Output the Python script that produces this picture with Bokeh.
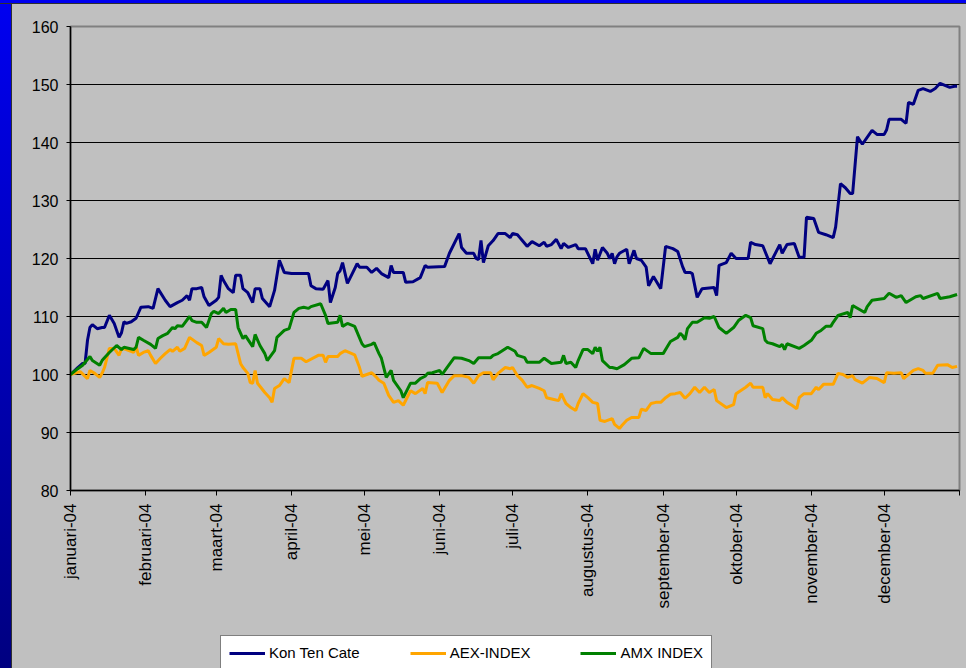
import math
import pandas as pd
from bokeh.plotting import figure
from bokeh.models import FixedTicker, Legend, LegendItem, Div, Range1d
from bokeh.layouts import row, column
from bokeh.embed import file_html
from bokeh.resources import INLINE

# ---------------- data ----------------
start = pd.Timestamp("2004-01-01")

kct_days = [0, 3, 5, 6, 7, 8, 9, 11, 13, 14, 16, 18, 20, 21, 22, 23, 25, 27, 29, 32, 34, 36, 39, 41, 44,
            46, 48, 49, 50, 52, 54, 55, 57, 60, 61, 62, 63, 65, 67, 68, 70, 71, 73, 75, 76, 78, 79, 82,
            84, 86, 88, 91, 98, 99, 101, 104, 106, 107, 109, 110, 111, 112, 114, 116, 118, 119, 122,
            124, 126, 128, 131, 132, 133, 137, 138, 141, 144, 146, 147, 154, 156, 160, 161, 163, 166,
            167, 168, 169, 170, 172, 174, 176, 179, 181, 182, 184, 185, 186, 188, 190, 193, 195, 196,
            198, 200, 202, 203, 205, 208, 209, 212, 215, 216, 217, 219, 221, 222, 223, 224, 225, 226,
            229, 230, 232, 233, 235, 237, 238, 240, 243, 245, 248, 250, 252, 253, 255, 256, 258, 260,
            265, 266, 267, 270, 272, 274, 276, 279, 280, 282, 285, 288, 292, 293, 295, 298, 300, 302,
            303, 306, 308, 311, 314, 315, 317, 319, 321, 322, 324, 326, 330, 332, 335, 336, 337, 342,
            344, 345, 347, 349, 351, 354, 356, 358, 362, 364, 365]
kct_vals = [100.0, 101.2, 101.9, 101.9, 105.9, 108.1, 108.6, 107.9, 108.1, 108.1, 110.2, 108.8, 106.4,
            107.2, 109.1, 108.8, 109.1, 109.7, 111.6, 111.7, 111.4, 114.8, 112.8, 111.7, 112.4, 112.8,
            113.6, 112.8, 114.8, 114.8, 115.0, 113.4, 111.9, 112.8, 113.3, 117.1, 116.2, 114.8, 114.1,
            117.1, 117.1, 114.8, 114.1, 112.4, 114.8, 114.8, 113.1, 111.7, 114.5, 119.7, 117.6, 117.4,
            117.4, 115.3, 114.8, 114.7, 116.2, 112.4, 115.0, 117.4, 117.9, 119.3, 115.7, 117.4, 119.1,
            118.5, 118.5, 117.6, 118.3, 117.4, 116.7, 118.8, 117.6, 117.6, 115.9, 116.0, 116.7, 118.8,
            118.5, 118.6, 120.9, 124.3, 121.9, 120.9, 120.9, 120.0, 119.8, 123.1, 119.3, 122.2, 123.1,
            124.3, 124.3, 123.6, 124.3, 124.1, 123.6, 123.1, 122.1, 122.9, 122.2, 122.8, 122.1, 122.4,
            123.3, 121.7, 122.6, 121.9, 122.4, 121.7, 121.7, 119.1, 121.6, 119.7, 121.9, 120.9, 120.0,
            120.9, 119.1, 120.3, 120.9, 121.6, 119.1, 121.4, 120.0, 119.7, 118.5, 115.3, 116.9, 114.8,
            122.1, 121.7, 121.2, 118.6, 117.6, 117.6, 117.4, 113.3, 114.8, 115.0, 113.6, 118.8, 119.3,
            120.9, 120.0, 120.0, 120.0, 122.8, 122.4, 122.2, 119.1, 122.4, 120.9, 122.4, 122.6, 120.2,
            120.2, 127.1, 126.9, 124.5, 124.1, 123.6, 125.4, 132.9, 132.2, 131.2, 131.2, 141.0, 139.7,
            142.1, 141.4, 141.4, 142.2, 144.0, 144.0, 143.3, 146.9, 146.6, 149.0, 149.3, 148.8, 149.3,
            150.2, 149.5, 149.7, 149.7]

aex_days = [0, 4, 7, 8, 10, 12, 13, 14, 16, 18, 20, 21, 23, 26, 27, 28, 30, 32, 33, 35, 37, 39, 41, 42,
            44, 45, 47, 49, 52, 54, 55, 57, 60, 61, 63, 65, 68, 70, 71, 73, 74, 75, 76, 77, 80, 82, 83,
            84, 86, 88, 90, 92, 95, 97, 102, 104, 105, 106, 110, 111, 113, 117, 119, 120, 124, 126, 127,
            129, 131, 133, 135, 137, 140, 142, 145, 146, 147, 151, 153, 156, 158, 161, 164, 166, 168,
            170, 173, 174, 176, 179, 181, 182, 184, 186, 188, 190, 193, 195, 196, 199, 201, 202, 204,
            206, 208, 209, 211, 213, 215, 217, 218, 220, 223, 224, 226, 227, 229, 231, 234, 235, 237,
            239, 241, 243, 245, 247, 249, 251, 253, 255, 257, 259, 261, 263, 265, 266, 270, 273, 274,
            278, 280, 281, 285, 286, 287, 289, 292, 293, 295, 297, 299, 300, 302, 305, 307, 308, 310,
            314, 316, 318, 320, 322, 323, 326, 329, 332, 335, 336, 339, 342, 343, 347, 349, 351, 352,
            355, 357, 361, 363, 365]
aex_vals = [100.0, 100.5, 99.3, 100.7, 100.2, 99.5, 100.2, 101.2, 104.5, 104.5, 103.3, 104.5, 104.3,
            103.8, 104.8, 103.3, 103.8, 104.1, 103.3, 101.9, 102.8, 103.6, 104.3, 104.0, 104.7, 104.0,
            104.5, 106.4, 105.5, 105.0, 103.3, 103.8, 104.7, 106.2, 105.3, 105.2, 105.3, 101.9, 101.2,
            100.2, 98.6, 98.5, 100.7, 98.5, 96.9, 96.0, 95.2, 97.6, 98.1, 99.3, 98.6, 102.8, 102.8,
            102.2, 103.3, 103.3, 102.1, 103.1, 103.1, 103.6, 104.1, 103.4, 101.2, 99.7, 100.3, 99.5,
            99.0, 98.5, 96.4, 95.2, 95.5, 94.7, 97.2, 96.7, 97.6, 96.7, 98.6, 98.5, 96.9, 99.0, 99.8,
            99.8, 99.5, 98.5, 99.8, 100.3, 100.3, 99.1, 100.2, 101.2, 101.0, 101.2, 99.8, 99.0, 97.8,
            98.1, 97.6, 97.2, 96.0, 95.7, 95.5, 96.7, 95.0, 94.3, 93.8, 95.0, 96.7, 96.0, 95.2, 95.0,
            92.1, 91.9, 92.4, 91.4, 90.7, 91.2, 92.1, 92.6, 92.6, 94.0, 93.8, 95.0, 95.2, 95.2, 96.0,
            96.6, 96.7, 96.9, 95.9, 96.7, 97.8, 96.9, 97.8, 96.9, 97.4, 95.5, 94.3, 94.8, 96.7, 97.8,
            98.5, 97.8, 97.8, 96.0, 96.7, 95.7, 95.5, 96.0, 95.2, 94.7, 94.1, 96.0, 96.7, 96.7, 97.8,
            97.4, 98.3, 98.3, 100.2, 100.0, 99.5, 99.8, 99.1, 98.5, 99.5, 99.3, 98.6, 100.3, 100.2,
            100.3, 99.3, 100.7, 101.0, 100.7, 100.2, 100.2, 101.6, 101.7, 101.2, 101.4]

amx_days = [0, 3, 5, 8, 9, 12, 13, 14, 16, 19, 21, 22, 26, 27, 28, 30, 33, 35, 36, 38, 40, 42, 43, 44,
            46, 49, 50, 52, 54, 56, 58, 59, 61, 63, 64, 66, 68, 69, 71, 72, 75, 76, 78, 80, 81, 84, 85,
            88, 90, 92, 94, 96, 98, 99, 103, 105, 106, 110, 111, 112, 114, 117, 120, 121, 124, 125, 127,
            128, 130, 132, 133, 136, 137, 140, 142, 144, 146, 147, 149, 152, 153, 155, 158, 161, 164,
            166, 168, 170, 173, 174, 176, 180, 183, 184, 187, 188, 193, 195, 198, 202, 203, 204, 206,
            208, 209, 211, 213, 215, 216, 217, 218, 219, 222, 223, 225, 228, 231, 234, 236, 239, 244,
            246, 247, 250, 251, 252, 253, 254, 256, 258, 261, 263, 265, 267, 270, 273, 275, 278, 280,
            281, 285, 286, 287, 289, 292, 293, 294, 295, 300, 302, 305, 307, 309, 311, 313, 314, 316,
            320, 321, 322, 327, 328, 330, 335, 337, 340, 342, 344, 348, 350, 351, 357, 358, 362, 365]
amx_vals = [100.0, 101.0, 101.6, 103.1, 102.4, 101.6, 102.4, 102.9, 103.8, 105.0, 104.3, 104.7, 104.3,
            104.7, 106.4, 105.9, 105.2, 104.5, 106.2, 106.7, 107.1, 108.1, 107.9, 108.4, 108.3, 110.0,
            109.3, 109.0, 109.0, 108.1, 110.5, 110.9, 110.5, 111.4, 110.7, 111.2, 111.2, 108.1, 106.2,
            106.7, 104.8, 106.9, 105.0, 103.6, 102.4, 104.1, 106.4, 107.6, 107.9, 110.7, 111.4, 111.6,
            111.4, 111.7, 112.2, 110.2, 108.8, 109.0, 110.2, 108.3, 108.8, 108.3, 105.3, 104.8, 105.2,
            105.5, 103.6, 102.8, 99.5, 100.7, 99.0, 97.2, 96.0, 98.5, 98.5, 99.3, 99.7, 100.2, 100.3,
            100.7, 100.0, 101.2, 102.9, 102.8, 102.4, 101.9, 102.9, 102.9, 102.9, 103.3, 103.6, 104.7,
            104.0, 103.3, 102.9, 102.1, 102.1, 102.8, 101.9, 102.1, 103.3, 101.9, 102.1, 101.2, 102.4,
            104.3, 104.3, 103.6, 104.7, 104.0, 104.7, 102.4, 101.2, 101.2, 101.0, 101.7, 102.8, 102.9,
            104.5, 103.6, 103.6, 105.0, 105.7, 106.4, 107.1, 106.7, 106.0, 107.9, 109.0, 109.0, 109.8,
            109.7, 110.0, 108.1, 107.1, 108.1, 109.3, 110.2, 109.8, 108.4, 107.9, 105.9, 105.5, 105.3,
            104.8, 105.2, 104.3, 105.3, 104.5, 105.0, 105.9, 107.1, 107.6, 108.3, 108.3, 109.0, 110.2,
            110.7, 109.8, 111.9, 110.7, 111.7, 112.8, 113.1, 114.0, 113.3, 113.6, 112.4, 113.4, 113.6,
            113.1, 114.0, 113.1, 113.4, 113.8]

series_names = ["Kon Ten Cate", "AEX-INDEX", "AMX INDEX"]
series_colors = ["#000080", "#FFA500", "#008000"]

month_starts = ["2004-01-01", "2004-02-01", "2004-03-01", "2004-04-01", "2004-05-01", "2004-06-01",
                "2004-07-01", "2004-08-01", "2004-09-01", "2004-10-01", "2004-11-01", "2004-12-01",
                "2005-01-01"]
month_labels = ["januari-04", "februari-04", "maart-04", "april-04", "mei-04", "juni-04", "juli-04",
                "augustus-04", "september-04", "oktober-04", "november-04", "december-04", ""]
y_ticks = [80, 90, 100, 110, 120, 130, 140, 150, 160]

# ---------------- figure ----------------
FONT = "Liberation Sans"
GRAY = "#C0C0C0"


def to_dates(days):
    return start + pd.to_timedelta(days, unit="D")


x_start = pd.Timestamp(month_starts[0])
x_end = pd.Timestamp(month_starts[-1])

p = figure(width=954, height=608, x_axis_type="datetime", output_backend="svg",
           toolbar_location=None, x_range=Range1d(x_start, x_end), y_range=Range1d(80, 160),
           min_border_left=58, min_border_right=7, min_border_top=22, min_border_bottom=122)
p.background_fill_color = GRAY
p.border_fill_color = GRAY
p.outline_line_color = "#808080"
p.outline_line_width = 2

for days, vals, color in [(kct_days, kct_vals, series_colors[0]),
                          (aex_days, aex_vals, series_colors[1]),
                          (amx_days, amx_vals, series_colors[2])]:
    p.line(to_dates(days), vals, line_color=color, line_width=3)

# grid
p.xgrid.visible = False
p.ygrid.grid_line_color = "black"
p.ygrid.grid_line_width = 1
p.ygrid.ticker = FixedTicker(ticks=y_ticks)

# y axis
p.yaxis.ticker = FixedTicker(ticks=y_ticks)
p.yaxis.axis_line_color = "black"
p.yaxis.axis_line_width = 1.5
p.yaxis.major_tick_line_color = "black"
p.yaxis.major_tick_out = 4
p.yaxis.major_tick_in = 0
p.yaxis.minor_tick_line_color = None
p.yaxis.major_label_text_font = FONT
p.yaxis.major_label_text_font_size = "16px"
p.yaxis.major_label_text_color = "black"
p.yaxis.major_label_standoff = 8

# x axis
tick_ms = [pd.Timestamp(m).value // 10**6 for m in month_starts]
p.xaxis.ticker = FixedTicker(ticks=tick_ms)
p.xaxis.major_label_overrides = {t: lab for t, lab in zip(tick_ms, month_labels)}
p.xaxis.major_label_orientation = math.pi / 2
p.xaxis.axis_line_color = "black"
p.xaxis.axis_line_width = 1.5
p.xaxis.major_tick_line_color = "black"
p.xaxis.major_tick_out = 5
p.xaxis.major_tick_in = 0
p.xaxis.minor_tick_line_color = None
p.xaxis.major_label_text_font = FONT
p.xaxis.major_label_text_font_size = "17px"
p.xaxis.major_label_text_color = "black"
p.xaxis.major_label_standoff = 8

# legend strip (separate small figure below the chart so the legend is not clipped)
lg = figure(width=954, height=56, output_backend="svg", toolbar_location=None,
            x_range=Range1d(0, 1), y_range=Range1d(0, 1),
            min_border_left=58, min_border_right=7, min_border_top=0, min_border_bottom=0)
lg.axis.visible = False
lg.grid.visible = False
lg.background_fill_color = None
lg.border_fill_color = GRAY
lg.outline_line_color = None
nan = float("nan")
legend_renderers = [lg.line([nan, nan], [nan, nan], line_color=c, line_width=3) for c in series_colors]

legend = Legend(items=[LegendItem(label=n, renderers=[r]) for n, r in zip(series_names, legend_renderers)],
                orientation="horizontal", location=(150, -2),
                background_fill_color="white", background_fill_alpha=1.0,
                border_line_color="black", border_line_width=1,
                padding=8, spacing=50, margin=0, glyph_width=36, glyph_height=16,
                label_standoff=4, label_height=16,
                label_text_font=FONT, label_text_font_size="15px", label_text_color="black")
lg.add_layout(legend, "center")

top_strip = Div(width=966, height=4, margin=0,
                styles={"background": "#0000f0", "border-bottom": "1px solid #303030",
                        "box-sizing": "border-box"})
side = Div(width=12, height=664, margin=0,
           styles={"background": "linear-gradient(#0000f0, #000080)",
                   "border-right": "1px solid #303030", "box-sizing": "border-box"})
chart = column(p, lg, spacing=0, styles={"background-color": GRAY})
layout = column(top_strip, row(side, chart, spacing=0, styles={"background-color": GRAY}), spacing=0)

open("out.html", "w").write(file_html(layout, INLINE))
